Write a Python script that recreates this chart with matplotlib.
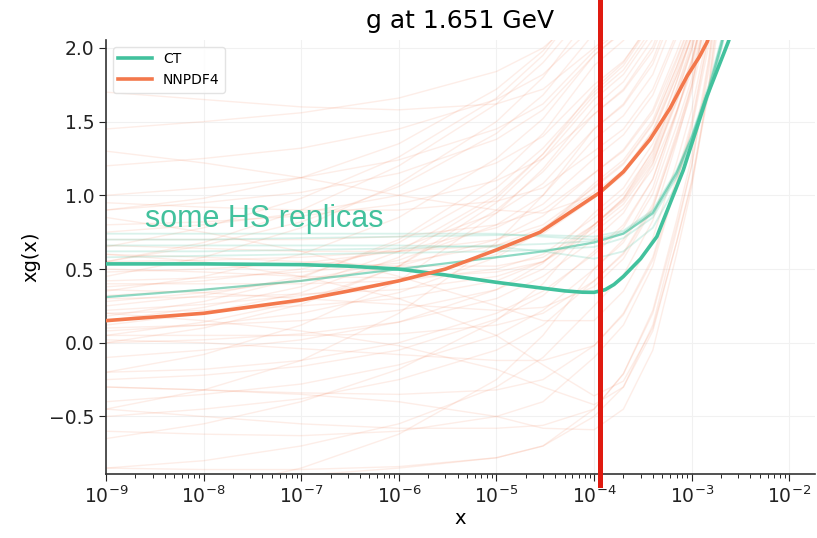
import numpy as np
import matplotlib
matplotlib.use("Agg")
import matplotlib.pyplot as plt
from matplotlib.ticker import LogLocator, NullFormatter

# ---------------- data ----------------
title = "g at 1.651 GeV"
annotation = "some HS replicas"
cut_x = 1.15e-4

ct_x = [1e-9, 1e-8, 1e-7, 3e-7, 1e-6, 3e-6, 1e-5, 3e-5, 5e-5, 7.6e-5, 1e-4,
        1.3e-4, 1.6e-4, 2e-4, 3e-4, 4.4e-4, 8.2e-4, 1.43e-3, 2.37e-3, 3e-3]
ct_y = [0.535, 0.535, 0.53, 0.52, 0.50, 0.46, 0.41, 0.37, 0.352, 0.343, 0.342,
        0.36, 0.395, 0.45, 0.57, 0.72, 1.17, 1.67, 2.04, 2.25]

nn_x = [1e-9, 1e-8, 1e-7, 3e-7, 1e-6, 3e-6, 1e-5, 2.8e-5, 5e-5, 1.15e-4,
        2e-4, 3.75e-4, 6e-4, 9e-4, 1.2e-3, 1.44e-3, 2e-3]
nn_y = [0.15, 0.20, 0.29, 0.35, 0.42, 0.50, 0.63, 0.75, 0.86, 1.02,
        1.16, 1.38, 1.59, 1.81, 1.94, 2.04, 2.30]

rep_x = [1e-9, 1e-8, 1e-7, 1e-6, 1e-5, 3e-5, 1e-4,
         2e-4, 4e-4, 7e-4, 1e-3, 1.5e-3, 2e-3, 3e-3]

nn_replicas = [
    [-0.85, -0.80, -0.70, -0.55, -0.30, -0.10, 0.25, 0.46, 0.83, 1.36, 1.73, 2.32, 2.90, 3.96],
    [-0.60, -0.62, -0.63, -0.60, -0.50, -0.40, -0.10, 0.12, 0.52, 1.08, 1.47, 2.08, 2.70, 3.82],
    [-0.40, -0.35, -0.28, -0.15, 0.05, 0.22, 0.50, 0.68, 1.01, 1.47, 1.79, 2.29, 2.80, 3.72],
    [-0.20, -0.18, -0.12, 0.00, 0.20, 0.35, 0.60, 0.78, 1.11, 1.57, 1.89, 2.39, 2.90, 3.82],
    [0.00, 0.02, 0.06, 0.14, 0.30, 0.45, 0.70, 0.88, 1.21, 1.67, 1.99, 2.49, 3.00, 3.92],
    [0.05, 0.14, 0.28, 0.52, 0.90, 1.16, 1.55, 1.72, 2.01, 2.43, 2.73, 3.19, 3.65, 4.48],
    [0.10, 0.12, 0.15, 0.22, 0.36, 0.50, 0.80, 0.98, 1.31, 1.77, 2.09, 2.59, 3.10, 4.02],
    [0.15, 0.24, 0.38, 0.62, 1.00, 1.28, 1.68, 1.85, 2.14, 2.56, 2.86, 3.32, 3.78, 4.60],
    [0.20, 0.22, 0.25, 0.30, 0.42, 0.55, 0.80, 0.96, 1.24, 1.64, 1.92, 2.36, 2.80, 3.60],
    [0.25, 0.32, 0.45, 0.68, 1.05, 1.32, 1.70, 1.88, 2.18, 2.60, 2.90, 3.35, 3.80, 4.60],
    [0.30, 0.31, 0.33, 0.36, 0.45, 0.55, 0.78, 0.94, 1.22, 1.63, 1.91, 2.36, 2.80, 3.61],
    [0.35, 0.45, 0.60, 0.85, 1.25, 1.52, 1.95, 2.12, 2.40, 2.80, 3.10, 3.55, 4.00, 4.80],
    [0.40, 0.40, 0.40, 0.42, 0.50, 0.60, 0.85, 1.01, 1.30, 1.71, 2.00, 2.45, 2.90, 3.72],
    [0.45, 0.58, 0.78, 1.08, 1.50, 1.80, 2.25, 2.41, 2.70, 3.10, 3.40, 3.85, 4.30, 5.05],
    [0.50, 0.48, 0.45, 0.44, 0.48, 0.55, 0.75, 0.91, 1.18, 1.57, 1.84, 2.27, 2.70, 3.48],
    [0.55, 0.66, 0.82, 1.06, 1.42, 1.68, 2.10, 2.27, 2.56, 2.97, 3.27, 3.72, 4.17, 4.95],
    [0.60, 0.58, 0.55, 0.52, 0.52, 0.58, 0.80, 0.97, 1.26, 1.68, 1.98, 2.44, 2.90, 3.74],
    [0.65, 0.78, 0.98, 1.26, 1.66, 1.95, 2.40, 2.56, 2.85, 3.25, 3.55, 4.00, 4.45, 5.20],
    [0.70, 0.70, 0.70, 0.72, 0.80, 0.90, 1.15, 1.30, 1.56, 1.93, 2.19, 2.59, 3.00, 3.74],
    [0.75, 0.80, 0.88, 1.00, 1.22, 1.40, 1.75, 1.91, 2.18, 2.57, 2.84, 3.27, 3.70, 4.48],
    [0.80, 0.82, 0.86, 0.94, 1.10, 1.25, 1.55, 1.71, 1.98, 2.37, 2.64, 3.07, 3.50, 4.28],
    [0.90, 0.95, 1.02, 1.15, 1.38, 1.58, 1.95, 2.11, 2.40, 2.81, 3.10, 3.55, 4.00, 4.82],
    [1.00, 1.05, 1.12, 1.24, 1.45, 1.62, 1.98, 2.14, 2.43, 2.84, 3.13, 3.58, 4.03, 4.85],
    [1.20, 1.25, 1.32, 1.45, 1.65, 1.82, 2.15, 2.31, 2.60, 3.00, 3.30, 3.75, 4.20, 5.00],
    [1.45, 1.50, 1.56, 1.66, 1.84, 2.00, 2.30, 2.46, 2.75, 3.15, 3.45, 3.90, 4.35, 5.10],
    [1.70, 1.65, 1.60, 1.58, 1.62, 1.72, 2.00, 2.16, 2.45, 2.86, 3.15, 3.60, 4.05, 4.85],
    [-1.10, -1.00, -0.85, -0.62, -0.25, 0.05, 0.50, 0.70, 1.05, 1.55, 1.90, 2.45, 3.00, 4.00],
    [-1.00, -0.95, -0.90, -0.85, -0.78, -0.70, -0.50, -0.30, 0.12, 0.76, 1.20, 1.90, 2.60, 3.84],
    [-0.30, -0.32, -0.35, -0.40, -0.50, -0.58, -0.59, -0.45, -0.05, 0.60, 1.05, 1.75, 2.45, 3.70],
    [0.20, 0.15, 0.08, -0.02, -0.18, -0.30, -0.42, -0.30, 0.08, 0.68, 1.10, 1.74, 2.38, 3.54],
    [0.60, 0.55, 0.45, 0.30, 0.05, -0.15, -0.36, -0.26, 0.10, 0.68, 1.08, 1.70, 2.30, 3.38],
    [-0.50, -0.45, -0.38, -0.25, -0.05, 0.12, 0.42, 0.61, 0.94, 1.42, 1.75, 2.28, 2.80, 3.75],
    [-0.30, -0.32, -0.34, -0.35, -0.32, -0.25, -0.02, 0.20, 0.58, 1.12, 1.50, 2.10, 2.70, 3.79],
    [0.05, 0.05, 0.05, 0.06, 0.12, 0.20, 0.42, 0.60, 0.92, 1.38, 1.70, 2.20, 2.70, 3.61],
    [0.12, 0.20, 0.34, 0.58, 0.98, 1.28, 1.72, 1.90, 2.20, 2.62, 2.92, 3.38, 3.84, 4.66],
    [0.28, 0.34, 0.42, 0.56, 0.80, 1.00, 1.38, 1.54, 1.82, 2.23, 2.51, 2.96, 3.40, 4.21],
    [0.38, 0.42, 0.50, 0.64, 0.88, 1.08, 1.45, 1.61, 1.89, 2.29, 2.57, 3.01, 3.45, 4.25],
    [0.48, 0.50, 0.54, 0.62, 0.78, 0.94, 1.25, 1.41, 1.68, 2.07, 2.34, 2.77, 3.20, 3.98],
    [0.18, 0.28, 0.44, 0.70, 1.12, 1.42, 1.88, 2.05, 2.35, 2.76, 3.06, 3.52, 3.98, 4.78],
    [-0.10, -0.05, 0.02, 0.14, 0.36, 0.54, 0.88, 1.05, 1.35, 1.77, 2.07, 2.53, 3.00, 3.85],
    [0.32, 0.36, 0.42, 0.52, 0.70, 0.86, 1.15, 1.31, 1.58, 1.97, 2.24, 2.67, 3.10, 3.88],
    [0.42, 0.44, 0.48, 0.54, 0.66, 0.78, 1.02, 1.17, 1.43, 1.81, 2.07, 2.49, 2.90, 3.65],
    [0.55, 0.56, 0.58, 0.62, 0.70, 0.80, 1.05, 1.21, 1.48, 1.87, 2.14, 2.57, 3.00, 3.78],
    [-0.65, -0.55, -0.40, -0.18, 0.15, 0.40, 0.80, 0.98, 1.28, 1.72, 2.03, 2.52, 3.00, 3.88],
    [-0.85, -0.86, -0.86, -0.84, -0.78, -0.70, -0.45, -0.21, 0.22, 0.83, 1.26, 1.93, 2.60, 3.82],
    [0.08, 0.12, 0.20, 0.34, 0.58, 0.76, 1.08, 1.24, 1.51, 1.91, 2.18, 2.62, 3.05, 3.84],
    [0.22, 0.26, 0.32, 0.42, 0.60, 0.76, 1.06, 1.22, 1.49, 1.87, 2.15, 2.57, 3.00, 3.78],
    [0.66, 0.64, 0.62, 0.62, 0.66, 0.74, 0.98, 1.14, 1.41, 1.81, 2.08, 2.52, 2.95, 3.74],
    [-0.25, -0.22, -0.16, -0.05, 0.16, 0.32, 0.62, 0.80, 1.11, 1.56, 1.87, 2.36, 2.85, 3.74],
    [0.95, 0.92, 0.90, 0.90, 0.96, 1.05, 1.30, 1.45, 1.72, 2.10, 2.36, 2.78, 3.20, 3.96],
    [1.30, 1.22, 1.12, 1.00, 0.90, 0.88, 1.00, 1.16, 1.44, 1.84, 2.12, 2.56, 3.00, 3.80],
    [0.85, 0.75, 0.62, 0.45, 0.25, 0.15, 0.15, 0.35, 0.71, 1.22, 1.58, 2.14, 2.70, 3.72],
    [-0.45, -0.50, -0.55, -0.58, -0.58, -0.56, -0.45, -0.21, 0.20, 0.79, 1.20, 1.85, 2.50, 3.68],
    [0.02, 0.00, -0.04, -0.08, -0.12, -0.12, -0.02, 0.19, 0.56, 1.08, 1.45, 2.02, 2.60, 3.65],
    [0.36, 0.34, 0.30, 0.26, 0.22, 0.24, 0.38, 0.57, 0.91, 1.40, 1.74, 2.27, 2.80, 3.77],
    [-0.20, -0.08, 0.12, 0.42, 0.88, 1.18, 1.60, 1.77, 2.06, 2.48, 2.78, 3.24, 3.70, 4.52],
    [0.55, 0.68, 0.90, 1.20, 1.62, 1.90, 2.30, 2.46, 2.75, 3.15, 3.45, 3.90, 4.35, 5.10],
    [0.00, 0.10, 0.26, 0.52, 0.95, 1.25, 1.65, 1.82, 2.11, 2.53, 2.83, 3.29, 3.75, 4.58],
    [-0.45, -0.32, -0.12, 0.20, 0.68, 1.00, 1.45, 1.62, 1.92, 2.34, 2.64, 3.10, 3.56, 4.40],
    [0.90, 0.98, 1.12, 1.35, 1.72, 1.98, 2.40, 2.56, 2.85, 3.25, 3.55, 4.00, 4.45, 5.20],
]

ct_replicas = [
    [0.31, 0.36, 0.42, 0.50, 0.58, 0.62, 0.68, 0.74, 0.88, 1.15, 1.39, 1.72, 2.02, 2.50],
    [0.62, 0.62, 0.63, 0.64, 0.66, 0.67, 0.69, 0.74, 0.87, 1.13, 1.37, 1.70, 2.00, 2.48],
    [0.70, 0.70, 0.71, 0.72, 0.73, 0.73, 0.72, 0.76, 0.90, 1.17, 1.41, 1.75, 2.05, 2.52],
    [0.58, 0.59, 0.60, 0.61, 0.62, 0.63, 0.65, 0.71, 0.85, 1.12, 1.36, 1.69, 1.99, 2.47],
    [0.74, 0.74, 0.74, 0.74, 0.74, 0.72, 0.70, 0.75, 0.89, 1.16, 1.40, 1.74, 2.04, 2.52],
    [0.66, 0.66, 0.66, 0.66, 0.65, 0.62, 0.57, 0.62, 0.78, 1.07, 1.33, 1.68, 1.99, 2.48],
]

# ---------------- style ----------------
teal = "#42c19d"
orange = "#f3784c"

fig = plt.figure(figsize=(8.17, 5.38), dpi=100)
ax = fig.add_axes([0.1297, 0.119, 0.868, 0.807])

for r in nn_replicas:
    ax.plot(rep_x, r, color=orange, lw=1.0, alpha=0.13, zorder=2)
for r in ct_replicas[1:]:
    ax.plot(rep_x, r, color=teal, lw=1.3, alpha=0.2, zorder=2)
ax.plot(rep_x, ct_replicas[0], color=teal, lw=1.6, alpha=0.6, zorder=2)

ax.plot(ct_x, ct_y, color=teal, lw=2.6, label="CT", zorder=4)
ax.plot(nn_x, nn_y, color=orange, lw=2.6, label="NNPDF4", zorder=4)

ax.axvline(cut_x, ymin=-0.025, ymax=1.095, color="#e01a10", lw=3.6,
           clip_on=False, zorder=6)

ax.text(10 ** -8.6, 0.783, annotation, color=teal, fontsize=22,
        family=["Liberation Sans", "DejaVu Sans"], va="baseline", zorder=5)

ax.set_xscale("log")
ax.set_xlim(1e-9, 0.0184)
ax.set_ylim(-0.89, 2.055)
ax.set_xticks([1e-9, 1e-8, 1e-7, 1e-6, 1e-5, 1e-4, 1e-3, 1e-2])
ax.xaxis.set_minor_locator(LogLocator(base=10, subs=np.arange(2, 10), numticks=30))
ax.xaxis.set_minor_formatter(NullFormatter())
ax.set_yticks([-0.5, 0.0, 0.5, 1.0, 1.5, 2.0])

ax.grid(True, which="major", color="#f1f1f1", lw=0.8, zorder=0)
ax.set_axisbelow(True)
for s in ["top", "right"]:
    ax.spines[s].set_visible(False)
for s in ["left", "bottom"]:
    ax.spines[s].set_color("#333333")
    ax.spines[s].set_linewidth(1.2)
ax.tick_params(labelsize=13.5, colors="#222222", length=5)
ax.tick_params(which="minor", length=3)

ax.set_xlabel("x", fontsize=14, labelpad=1)
ax.set_ylabel("xg(x)", fontsize=14, labelpad=6)
ax.set_title(title, fontsize=18, pad=8.5)

leg = ax.legend(loc="upper left", fontsize=10, handlelength=2.4,
                frameon=True, borderaxespad=0.5)
leg.get_frame().set_edgecolor("#dddddd")
for h in leg.get_lines():
    h.set_linewidth(2.6)

fig.savefig("out.png", dpi=100)
